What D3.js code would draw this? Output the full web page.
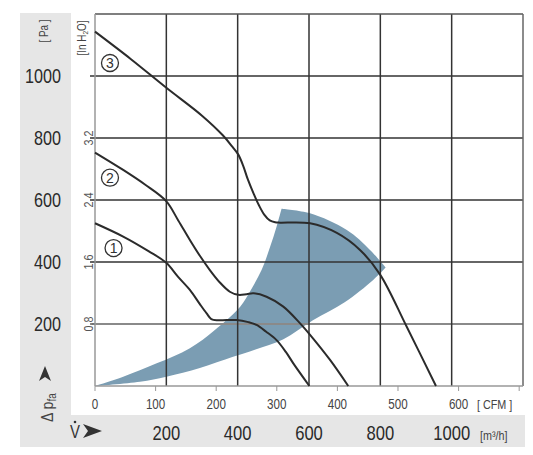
<!DOCTYPE html>
<html lang="en">
<head>
<meta charset="utf-8">
<title>Fan curve</title>
<script src="https://d3js.org/d3.v7.min.js"></script>
<style>
  body { margin: 0; background: #fff; }
  text { font-family: "Liberation Sans", Arial, sans-serif; }
</style>
</head>
<body>
<svg width="533" height="455"></svg>
<script>
// flow in m3/h, pressure in Pa
var curve1 = [[0,525],[79,482],[150,435],[199,398],[233,352],[266,310],[294,264],[313,234],[326,216],[345,212],[397,213],[430,206],[453,197],[480,175],[509,148],[535,110],[556,73],[601,0]];
var curve2 = [[0,753],[79,697],[140,650],[199,597],[233,535],[266,471],[294,420],[322,374],[350,334],[378,304],[402,294],[425,296],[444,299],[481,288],[528,256],[575,202],[603,165],[659,84],[710,0]];
var curve3 = [[0,1143],[100,1055],[200,962],[300,872],[359,808],[385,772],[401,748],[415,712],[428,668],[445,620],[460,582],[475,552],[490,534],[505,528],[519,527],[603,525],[678,494],[743,439],[799,360],[874,191],[956,0]];

// operating range band (upper edge, outer arc, lower edge)
var bandUpper = [[0,0],[79,30],[173,73],[266,122],[336,181],[407,256],[435,306],[467,374],[491,449],[509,514],[523,572]];
var bandArc = [[523,572],[603,557],[706,503],[771,439],[815,382]];
var bandLower = [[815,382],[780,342],[700,270],[611,212],[527,150],[450,118],[387,94],[294,58],[200,30],[126,14],[0,0]];

var labels = [{n: "1", x: 52, p: 445}, {n: "2", x: 42, p: 672}, {n: "3", x: 42, p: 1042}];

var paTicks = [200, 400, 600, 800, 1000];
var inH2OTicks = ["0,8", "1,6", "2,4", "3,2"];
var cfmTicks = [0, 100, 200, 300, 400, 500, 600, 700];
var m3hTicks = [200, 400, 600, 800, 1000];
var CFM = 1.699; // m3/h per CFM

var SX = 0.83; // condensed look for the labels

var svg = d3.select("svg");

var x = d3.scaleLinear().domain([0, 1200]).range([95, 523]);
var y = d3.scaleLinear().domain([0, 1200]).range([386, 14]);

function narrow(tx, ty, rot) {
  return "translate(" + tx + "," + ty + ")" + (rot ? " rotate(-90)" : "") + " scale(" + SX + ",1)";
}

// grey bands
svg.append("rect").attr("x", 20).attr("y", 13).attr("width", 51).attr("height", 434).attr("fill", "#e6e6e6");
svg.append("rect").attr("x", 20).attr("y", 415).attr("width", 505).attr("height", 32).attr("fill", "#e6e6e6");

// operating band
var line = d3.line().x(function(d) { return x(d[0]); }).y(function(d) { return y(d[1]); })
    .curve(d3.curveCatmullRom.alpha(0.5));
var bandPath = line(bandUpper) + line(bandArc).replace(/^M/, "L") + line(bandLower).replace(/^M/, "L") + "Z";
svg.append("path").attr("d", bandPath).attr("fill", "#7b9db3");

// grid
var grid = svg.append("g");
grid.selectAll(".hg").data(paTicks).enter().append("line")
    .attr("x1", 90).attr("x2", x(1200))
    .attr("y1", function(d) { return y(d); }).attr("y2", function(d) { return y(d); })
    .attr("stroke", function(d) { return d === 200 ? "#8a8a8a" : "#333"; })
    .attr("stroke-width", function(d) { return d === 200 ? 2 : 1.5; });
grid.selectAll(".vg").data(m3hTicks).enter().append("line")
    .attr("x1", function(d) { return x(d); }).attr("x2", function(d) { return x(d); })
    .attr("y1", y(1200)).attr("y2", y(0))
    .attr("stroke", "#333").attr("stroke-width", 1.5);
grid.append("line").attr("x1", x(0)).attr("x2", x(1200)).attr("y1", y(1200)).attr("y2", y(1200))
    .attr("stroke", "#555").attr("stroke-width", 1.5);
grid.append("line").attr("x1", x(1200)).attr("x2", x(1200)).attr("y1", y(1200)).attr("y2", y(0))
    .attr("stroke", "#666").attr("stroke-width", 1.5);
grid.append("line").attr("x1", x(0)).attr("x2", x(0)).attr("y1", y(1200)).attr("y2", y(0))
    .attr("stroke", "#999").attr("stroke-width", 1.5);
grid.append("line").attr("x1", x(0)).attr("x2", x(1200)).attr("y1", y(0)).attr("y2", y(0))
    .attr("stroke", "#999").attr("stroke-width", 1.5);

// CFM axis
var cfmAxis = svg.append("g");
cfmAxis.selectAll("line").data(cfmTicks).enter().append("line")
    .attr("x1", function(d) { return x(d * CFM); }).attr("x2", function(d) { return x(d * CFM); })
    .attr("y1", y(0)).attr("y2", y(0) + 5)
    .attr("stroke", "#999").attr("stroke-width", 1);
cfmAxis.selectAll("text").data(cfmTicks.slice(0, 7)).enter().append("text")
    .attr("transform", function(d) { return narrow(x(d * CFM), 409); })
    .attr("text-anchor", "middle").attr("font-size", 14).attr("fill", "#444")
    .text(function(d) { return d; });
svg.append("text").attr("transform", narrow(477, 409)).attr("font-size", 13).attr("fill", "#444")
    .text("[ CFM ]");

// m3/h axis
svg.selectAll(".m3").data(m3hTicks).enter().append("text")
    .attr("transform", function(d) { return narrow(x(d), 440); })
    .attr("text-anchor", "middle").attr("font-size", 20).attr("fill", "#2a2a2a")
    .text(function(d) { return d; });
svg.append("text").attr("transform", narrow(480, 440)).attr("font-size", 13).attr("fill", "#444")
    .text("[m³/h]");

// Pa axis
svg.selectAll(".pa").data(paTicks).enter().append("text")
    .attr("transform", function(d) { return narrow(61, y(d) + 7); })
    .attr("text-anchor", "end").attr("font-size", 19.5).attr("fill", "#2a2a2a")
    .text(function(d) { return d; });
svg.append("text").attr("transform", narrow(48, 31, true))
    .attr("text-anchor", "middle").attr("font-size", 12).attr("fill", "#444").text("[ Pa ]");

// in H2O axis
svg.selectAll(".inh").data(inH2OTicks).enter().append("text")
    .attr("transform", function(d, i) { return narrow(93, y(paTicks[i]), true); })
    .attr("text-anchor", "middle").attr("font-size", 13).attr("fill", "#555")
    .text(function(d) { return d; });
var inh = svg.append("text").attr("transform", narrow(86, 38, true))
    .attr("text-anchor", "middle").attr("font-size", 12).attr("fill", "#444");
inh.append("tspan").text("[In H");
inh.append("tspan").attr("font-size", 8).attr("dy", 2).text("2");
inh.append("tspan").attr("dy", -2).text("O]");

// Δp label + arrow
var dp = svg.append("text").attr("transform", narrow(53, 422, true))
    .attr("font-size", 17).attr("fill", "#444");
dp.append("tspan").text("Δ p");
dp.append("tspan").attr("font-size", 12).attr("dy", 3).text("fa");
svg.append("path").attr("d", "M45,366 L51,381 L45,377 L39,381 Z").attr("fill", "#333");

// V label + arrow
svg.append("text").attr("transform", narrow(75, 438)).attr("text-anchor", "middle")
    .attr("font-size", 18).attr("fill", "#333").text("V");
svg.append("circle").attr("cx", 75).attr("cy", 422).attr("r", 1.3).attr("fill", "#333");
svg.append("path").attr("d", "M102,431 L83,424 L88,431 L83,438 Z").attr("fill", "#333");

// fan curves
svg.selectAll(".curve").data([curve1, curve2, curve3]).enter().append("path")
    .attr("d", line).attr("fill", "none").attr("stroke", "#2b2b2b").attr("stroke-width", 2);

// curve numbers
var lab = svg.selectAll(".lab").data(labels).enter().append("g")
    .attr("transform", function(d) { return "translate(" + x(d.x) + "," + y(d.p) + ")"; });
lab.append("circle").attr("r", 8.5).attr("fill", "#fff").attr("stroke", "#333").attr("stroke-width", 1.3);
lab.append("text").attr("y", 5).attr("text-anchor", "middle").attr("font-size", 14).attr("fill", "#333")
    .text(function(d) { return d.n; });
</script>
</body>
</html>
